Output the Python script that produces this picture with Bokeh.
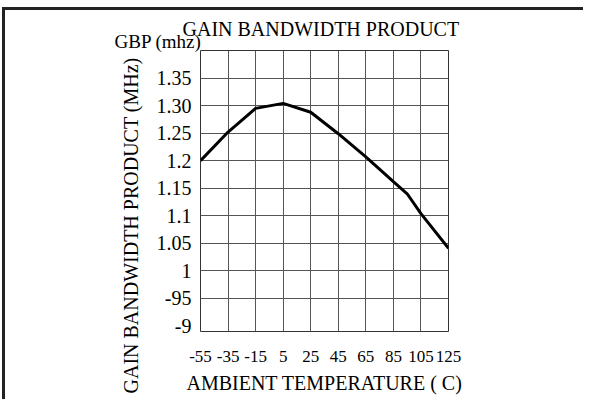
from bokeh.plotting import figure
from bokeh.models import FixedTicker, Title
from bokeh.embed import file_html
from bokeh.resources import INLINE

# ---- data ----
temps = [-55, -35, -15, 5, 25, 45, 65, 85, 95, 105, 125]
gbp = [1.200, 1.252, 1.295, 1.304, 1.288, 1.249, 1.207, 1.162, 1.140, 1.104, 1.041]

x_ticks = [-55, -35, -15, 5, 25, 45, 65, 85, 105, 125]
x_tick_labels = ["-55", "-35", "-15", "5", "25", "45", "65", "85", "105", "125"]
y_ticks = [0.9, 0.95, 1.0, 1.05, 1.1, 1.15, 1.2, 1.25, 1.3, 1.35]
y_tick_labels = ["-9", "-95", "1", "1.05", "1.1", "1.15", "1.2", "1.25", "1.30", "1.35"]
y_grid = [0.95, 1.0, 1.05, 1.1, 1.15, 1.2, 1.25, 1.3, 1.35]

title_text = "GAIN BANDWIDTH PRODUCT"
unit_text = "GBP (mhz)"
x_title = "AMBIENT TEMPERATURE ( C)"
y_title = "GAIN BANDWIDTH PRODUCT  (MHz)"

FONT = "Liberation Serif"

p = figure(width=581, height=392, x_range=(-55, 125), y_range=(0.89, 1.40),
           output_backend="svg", toolbar_location=None,
           min_border_left=195, min_border_right=138,
           min_border_top=40, min_border_bottom=71)
p.styles = {"border-top": "3px solid #222222", "border-left": "3px solid #222222",
            "margin-top": "7px", "margin-left": "2px"}

p.outline_line_color = "#333333"
p.outline_line_width = 1

p.xgrid.ticker = FixedTicker(ticks=x_ticks)
p.ygrid.ticker = FixedTicker(ticks=y_grid)
for g in (p.xgrid, p.ygrid):
    g.grid_line_color = "#555555"
    g.grid_line_width = 1
    g.grid_line_alpha = 1.0

xa = p.xaxis[0]
xa.ticker = FixedTicker(ticks=x_ticks)
xa.major_label_overrides = dict(zip(x_ticks, x_tick_labels))
ya = p.yaxis[0]
ya.ticker = FixedTicker(ticks=y_ticks)
ya.major_label_overrides = dict(zip(y_ticks, y_tick_labels))

for ax in (xa, ya):
    ax.axis_line_color = None
    ax.major_tick_line_color = None
    ax.minor_tick_line_color = None
    ax.major_tick_out = 0
    ax.major_tick_in = 0
    ax.major_label_text_font = FONT
    ax.major_label_text_color = "black"
xa.major_label_text_font_size = "17px"
xa.major_label_standoff = 19
ya.major_label_text_font_size = "20px"
ya.major_label_standoff = 9

xa.axis_label = x_title
xa.axis_label_text_font = FONT
xa.axis_label_text_font_size = "20px"
xa.axis_label_text_font_style = "normal"
xa.axis_label_text_color = "black"
xa.axis_label_standoff = 7

p.line(temps, gbp, line_color="black", line_width=3)

# unit label just above the frame, left of it
p.add_layout(Title(text=unit_text, align="left", offset=-86, standoff=-3,
                   text_font=FONT, text_font_size="19px",
                   text_font_style="normal", text_color="black"), "above")
# main title
p.title.text = title_text
p.title.align = "left"
p.title.offset = -18
p.title.standoff = -19
p.title.text_font = FONT
p.title.text_font_size = "20px"
p.title.text_font_style = "normal"
p.title.text_color = "black"
# rotated axis title
p.add_layout(Title(text=y_title, align="left", offset=-62, standoff=23,
                   text_font=FONT, text_font_size="20px",
                   text_font_style="normal", text_color="black"), "left")

open("out.html", "w").write(file_html(p, INLINE))
